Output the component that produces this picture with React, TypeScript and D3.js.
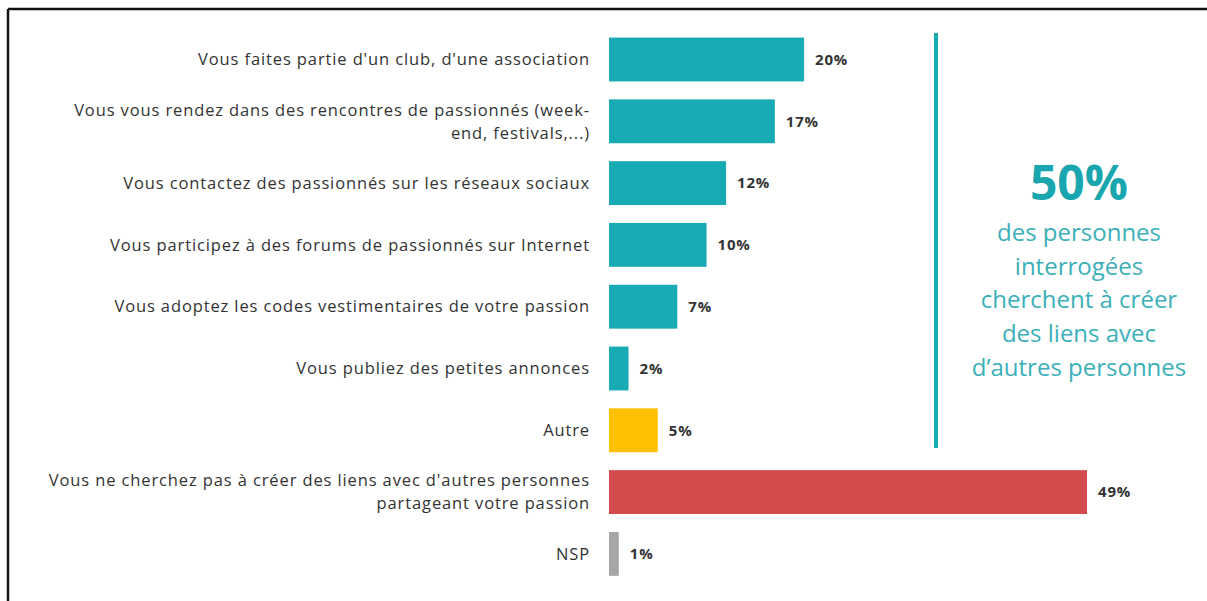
import React, { useEffect, useRef } from 'react';
import * as d3 from 'd3';

// survey answers, top to bottom
const categories = [
  ["Vous faites partie d'un club, d'une association"],
  ['Vous vous rendez dans des rencontres de passionnés (week-', 'end, festivals,...)'],
  ['Vous contactez des passionnés sur les réseaux sociaux'],
  ['Vous participez à des forums de passionnés sur Internet'],
  ['Vous adoptez les codes vestimentaires de votre passion'],
  ['Vous publiez des petites annonces'],
  ['Autre'],
  ["Vous ne cherchez pas à créer des liens avec d'autres personnes", 'partageant votre passion'],
  ['NSP']
];
const values = [20, 17, 12, 10, 7, 2, 5, 49, 1];
const groups = ['lien', 'lien', 'lien', 'lien', 'lien', 'lien', 'autre', 'non', 'nsp'];

const calloutValue = '50%';
const calloutLines = [
  'des personnes',
  'interrogées',
  'cherchent à créer',
  'des liens avec',
  'd’autres personnes'
];

const colors = {
  lien: '#19abb3',
  autre: '#ffc000',
  non: '#d54b4c',
  nsp: '#a6a6a6'
};

const App = () => {
  const $svg = useRef<SVGSVGElement>(null);
  const width = 1207;
  const height = 601;

  useEffect(() => {
    const svg = d3.select($svg.current);
    svg.selectAll('*').remove();

    const font = '"Open Sans", Lato, sans-serif';

    // frame (top and left edges only are visible)
    svg.append('line')
      .attr('x1', 8).attr('x2', width).attr('y1', 9).attr('y2', 9)
      .attr('stroke', '#111').attr('stroke-width', 2.5);
    svg.append('line')
      .attr('x1', 8).attr('x2', 8).attr('y1', 9).attr('y2', height)
      .attr('stroke', '#111').attr('stroke-width', 2.5);

    const idx = values.map((_, i) => i);
    const y = d3.scaleBand<number>()
      .domain(idx)
      .range([31.4, 582])
      .paddingInner(0.29)
      .paddingOuter(0.1);

    const x = d3.scaleLinear().domain([0, 49]).range([609, 1087]);

    const bars = svg.append('g');
    bars.selectAll('rect')
      .data(idx)
      .enter()
      .append('rect')
      .attr('x', x(0))
      .attr('y', d => y(d)!)
      .attr('width', d => x(values[d]) - x(0))
      .attr('height', y.bandwidth())
      .attr('fill', d => colors[groups[d]]);

    bars.selectAll('text.val')
      .data(idx)
      .enter()
      .append('text')
      .attr('class', 'val')
      .attr('x', d => x(values[d]) + 11)
      .attr('y', d => y(d)! + y.bandwidth() / 2)
      .attr('dy', '0.35em')
      .attr('font-family', font)
      .attr('font-weight', 'bold')
      .attr('font-size', 15)
      .attr('letter-spacing', 0.8)
      .attr('fill', '#333')
      .text(d => values[d] + '%');

    // category labels, right aligned next to the bars
    const labels = svg.append('g');
    idx.forEach(i => {
      const lines = categories[i];
      const cy = y(i)! + y.bandwidth() / 2;
      const lh = 23;
      lines.forEach((line, j) => {
        labels.append('text')
          .attr('x', 590)
          .attr('y', cy + (j - (lines.length - 1) / 2) * lh)
          .attr('dy', '0.35em')
          .attr('text-anchor', 'end')
          .attr('font-family', font)
          .attr('font-size', 16.5)
          .attr('letter-spacing', 0.88)
          .attr('fill', '#333')
          .text(line);
      });
    });

    // callout on the right
    svg.append('line')
      .attr('x1', 936).attr('x2', 936).attr('y1', 33).attr('y2', 448)
      .attr('stroke', '#19abb3').attr('stroke-width', 4);

    const cx = 1079;
    svg.append('text')
      .attr('x', cx).attr('y', 200)
      .attr('text-anchor', 'middle')
      .attr('font-family', font)
      .attr('font-weight', 'bold')
      .attr('font-size', 48)
      .attr('fill', '#19a6ae')
      .text(calloutValue);

    svg.append('g')
      .selectAll('text')
      .data(calloutLines)
      .enter()
      .append('text')
      .attr('x', cx)
      .attr('y', (_, i) => 241 + i * 33.7)
      .attr('text-anchor', 'middle')
      .attr('font-family', font)
      .attr('font-size', 24)
      .attr('fill', '#3bb0b8')
      .text(d => d);
  }, []);

  return (
    <div style={{ position: 'fixed', left: 0, top: 0, width, height, background: '#fff' }}>
      <svg ref={$svg} width={width} height={height} />
    </div>
  );
};

export default App;
